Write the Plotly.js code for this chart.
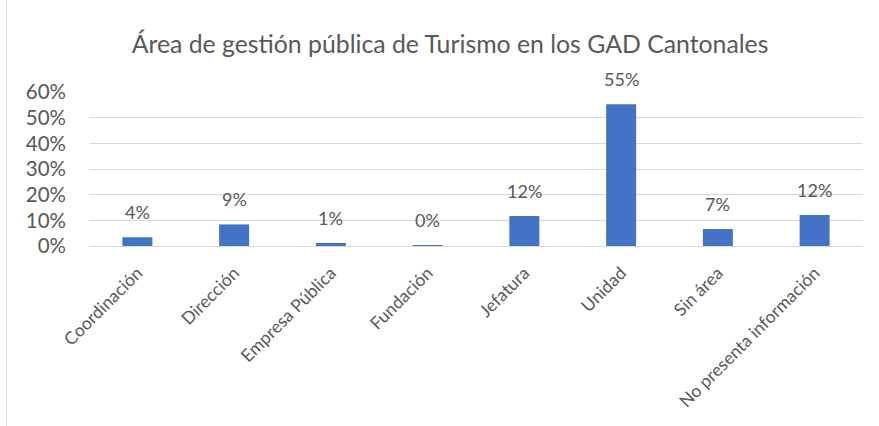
<!DOCTYPE html>
<html>
<head>
<meta charset="utf-8">
<script src="https://cdn.plot.ly/plotly-3.0.1.min.js"></script>
<style>
  html, body { margin: 0; padding: 0; background: #ffffff; }
  #chart { width: 879px; height: 426px; position: relative; }
  #frame { position: absolute; left: 6px; top: 0; width: 1px; height: 426px; background: #d9d9d9; }
</style>
</head>
<body>
<div id="chart"></div>
<div id="frame"></div>
<script>
const categories = ["Coordinación", "Dirección", "Empresa Pública", "Fundación", "Jefatura", "Unidad", "Sin área", "No presenta información"];
const values = [0.034, 0.084, 0.012, 0.004, 0.117, 0.552, 0.066, 0.121];
const labels = ["4%", "9%", "1%", "0%", "12%", "55%", "7%", "12%"];
const yTickVals = [0, 0.1, 0.2, 0.3, 0.4, 0.5, 0.6];
const yTickText = ["0%", "10%", "20%", "30%", "40%", "50%", "60%"];

const textColor = "#595959";
const fontFam = "Lato, 'Open Sans', sans-serif";

const trace = {
  type: "bar",
  x: categories,
  y: values,
  marker: { color: "#4472C4" },
  hoverinfo: "none",
  showlegend: false
};

const annotations = categories.map((c, i) => ({
  x: c,
  y: values[i],
  xref: "x",
  yref: "y",
  text: labels[i],
  showarrow: false,
  yanchor: "bottom",
  yshift: 12,
  font: { family: fontFam, size: 18, color: textColor }
}));

const layout = {
  width: 879,
  height: 426,
  paper_bgcolor: "#ffffff",
  plot_bgcolor: "#ffffff",
  margin: { l: 89, r: 16, t: 92, b: 180 },
  bargap: 0.69,
  title: {
    text: "Área de gestión pública de Turismo en los GAD Cantonales",
    font: { family: fontFam, size: 24.8, color: textColor },
    x: 0.512,
    xanchor: "center",
    y: 0.895,
    yanchor: "middle"
  },
  xaxis: {
    type: "category",
    tickangle: -45,
    tickfont: { family: fontFam, size: 17.5, color: textColor },
    showline: true,
    linecolor: "#d9d9d9",
    linewidth: 1,
    ticks: "",
    ticklabelstandoff: 9,
    showgrid: false,
    fixedrange: true
  },
  yaxis: {
    range: [0, 0.6],
    tickvals: yTickVals,
    ticktext: yTickText,
    tickfont: { family: fontFam, size: 20.5, color: textColor },
    showgrid: true,
    gridcolor: "#d9d9d9",
    gridwidth: 1,
    zeroline: false,
    showline: false,
    ticks: "",
    ticklabelstandoff: 22,
    fixedrange: true
  },
  annotations: annotations
};

Plotly.newPlot("chart", [trace], layout, { displayModeBar: false, staticPlot: true });
</script>
</body>
</html>
